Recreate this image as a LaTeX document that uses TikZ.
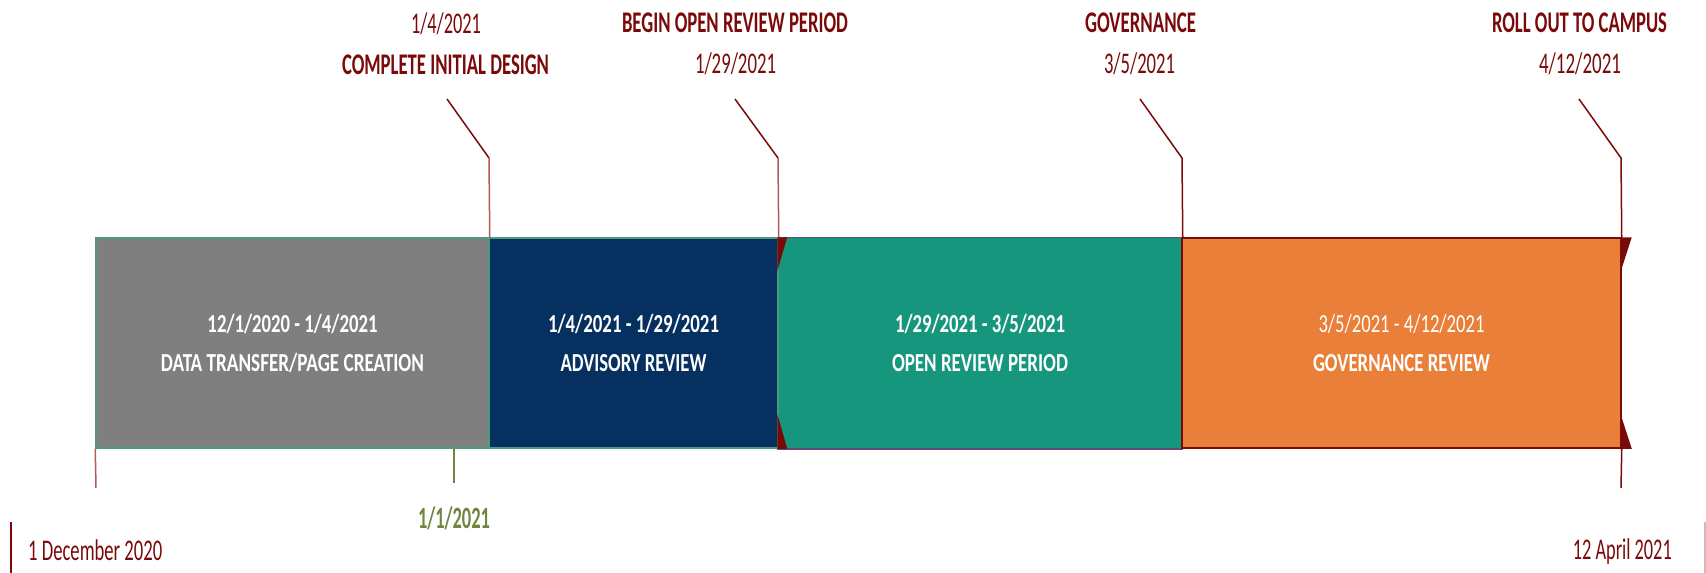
\documentclass[tikz,border=0pt]{standalone}
\usepackage{fontspec}
\setmainfont{Carlito}
\usepackage{graphicx}
\definecolor{dred}{HTML}{7A0A0A}
\definecolor{gphase}{HTML}{7F7F7F}
\definecolor{bphase}{HTML}{06305F}
\definecolor{tphase}{HTML}{16967C}
\definecolor{ophase}{HTML}{E97F39}
\definecolor{olivec}{HTML}{6F8540}
\definecolor{tealedge}{HTML}{4C9A80}
\definecolor{purpedge}{HTML}{604A7B}
\definecolor{ltred}{HTML}{B05A5A}
\definecolor{pinkline}{HTML}{D8B4B4}
\newcommand\fitw[2]{\resizebox{#1}{\height}{#2}}
\begin{document}
\begin{tikzpicture}[x=1pt,y=-1pt,
  phase/.style={rectangle, inner sep=0pt, minimum height=210pt, line width=1.5pt,
    text=white, align=center, font=\fontsize{26}{39}\selectfont},
  toplbl/.style={text=dred, inner sep=0pt, anchor=base, font=\fontsize{30}{30}\selectfont},
  topbold/.style={toplbl, font=\fontsize{30}{30}\selectfont\bfseries},
  leader/.style={draw=dred, line width=1.5pt},
]
\useasboundingbox (0,0) rectangle (1706,573);

% phases
\node[phase, fill=tphase, minimum width=404pt] (p3) at (980,343)
  {\fitw{170pt}{\textbf{1/29/2021 - 3/5/2021}}\\\fitw{176pt}{\textbf{OPEN REVIEW PERIOD}}};
\draw[purpedge, line width=1.5pt] (p3.north west) -- (p3.north east);
\draw[purpedge, line width=1.5pt] (p3.south west) -- (p3.south east);
\node[phase, fill=gphase, draw=tealedge, minimum width=393pt] (p1) at (292.5,343)
  {\fitw{170pt}{\textbf{12/1/2020 - 1/4/2021}}\\\fitw{263pt}{\textbf{DATA TRANSFER/PAGE CREATION}}};
\node[phase, fill=bphase, draw=tealedge, minimum width=289pt] (p2) at (633.5,343)
  {\fitw{171pt}{\textbf{1/4/2021 - 1/29/2021}}\\\fitw{146pt}{\textbf{ADVISORY REVIEW}}};
\node[phase, fill=ophase, draw=dred, minimum width=439pt] (p4) at (1401.5,343)
  {\fitw{166pt}{3/5/2021 - 4/12/2021}\\\fitw{177pt}{\textbf{GOVERNANCE REVIEW}}};

% notch triangles
\fill[dred] (p3.north west) -- ++(10,0) -- ++(-10,34) -- cycle;
\fill[dred] (p3.south west) -- ++(10,0) -- ++(-10,-35) -- cycle;
\fill[dred] (p4.north east) -- ++(10,0) -- ++(-10,31) -- cycle;
\fill[dred] (p4.south east) -- ++(10,0) -- ++(-10,-31) -- cycle;

% top labels
\node[toplbl] (d1) at (446,33) {\fitw{70pt}{1/4/2021}};
\node[topbold] (t1) at (445.5,74) {\fitw{207pt}{COMPLETE INITIAL DESIGN}};
\node[topbold] (t2) at (735,32.5) {\fitw{226pt}{BEGIN OPEN REVIEW PERIOD}};
\node[toplbl] (d2) at (735.5,73) {\fitw{81pt}{1/29/2021}};
\node[topbold] (t3) at (1140.5,32.5) {\fitw{111pt}{GOVERNANCE}};
\node[toplbl] (d3) at (1139.5,73) {\fitw{71pt}{3/5/2021}};
\node[topbold] (t4) at (1579.5,32.5) {\fitw{175pt}{ROLL OUT TO CAMPUS}};
\node[toplbl] (d4) at (1580,73) {\fitw{82pt}{4/12/2021}};

% leader lines
\coordinate (e1) at (447,99);  \coordinate (b1) at (489,158);
\coordinate (e2) at (735,99);  \coordinate (b2) at (778,158);
\coordinate (e3) at (1140,99); \coordinate (b3) at (1182,158);
\coordinate (e4) at (1579,99); \coordinate (b4) at (1621,158);
\draw[leader] (e1) -- (b1);
\draw[ltred, line width=1.5pt] (b1) -- (p1.north east);
\draw[leader] (e2) -- (b2);
\draw[ltred, line width=1.5pt] (b2) -- (p2.north east);
\draw[leader] (e3) -- (b3) -- (p3.north east);
\draw[leader] (e4) -- (b4) -- (p4.north east);

% bottom ticks
\coordinate (s1) at (96,488);
\coordinate (s4) at (1621,488);
\coordinate (so) at (454,483);
\draw[ltred, line width=1.5pt] (p1.south west) -- (s1);
\draw[leader] (p4.south east) -- (s4);
\draw[olivec, line width=1.5pt] (p1.south west -| so) -- (so);

\node[inner sep=0pt, anchor=base, text=olivec, font=\fontsize{31}{31}\selectfont\bfseries] (n1) at (454,528) {\fitw{72pt}{1/1/2021}};
\node[inner sep=0pt, anchor=base west, text=dred, font=\fontsize{30}{30}\selectfont] (dstart) at (28,560) {\fitw{134pt}{1 December 2020}};
\node[inner sep=0pt, anchor=base east, text=dred, font=\fontsize{30}{30}\selectfont] (dend) at (1672,559) {\fitw{99pt}{12 April 2021}};
\draw[dred, line width=1.5pt] (11,522) -- (11,573);
\draw[pinkline, line width=1.5pt] (1705,522) -- (1705,573);
\end{tikzpicture}
\end{document}
